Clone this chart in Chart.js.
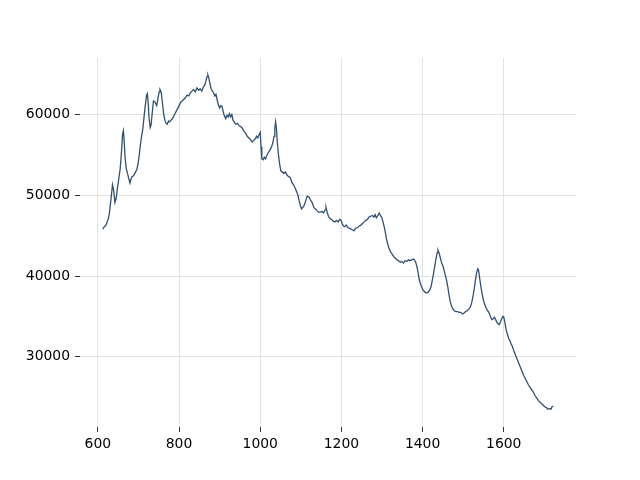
<!DOCTYPE html>
<html>
<head>
<meta charset="utf-8">
<script src="https://cdn.jsdelivr.net/npm/chart.js@4/dist/chart.umd.min.js"></script>
<style>
    html, body { margin: 0; padding: 0; background: #fff; }
    #spectrum { display: block; }
</style>
</head>
<body>
<canvas id="spectrum" width="640" height="480"></canvas>
<script>
let shift = [
    612, 616, 620, 625, 628, 630, 633, 636, 639, 642, 645, 648, 652, 655, 658, 661, 663, 665, 667, 670,
    673, 676, 679, 681, 684, 688, 692, 696, 699, 702, 705, 708, 711, 714, 717, 720, 722, 724, 726, 729,
    731, 734, 737, 740, 743, 745, 748, 751, 753, 756, 759, 762, 765, 768, 771, 774, 777, 780, 784, 788,
    792, 796, 800, 804, 808, 812, 816, 820, 824, 828, 832, 836, 840, 844, 848, 852, 856, 860, 863, 866,
    869, 871, 873, 876, 879, 882, 885, 888, 891, 894, 897, 900, 903, 906, 909, 912, 915, 918, 921, 924,
    927, 930, 933, 936, 940, 944, 948, 952, 956, 960, 964, 968, 972, 976, 980, 984, 988, 991, 994, 997,
    1000, 1002, 1004, 1007, 1010, 1013, 1016, 1020, 1024, 1028, 1031, 1034, 1036, 1038, 1040, 1042, 1045, 1048, 1051, 1054,
    1058, 1062, 1066, 1070, 1074, 1078, 1082, 1086, 1090, 1093, 1096, 1099, 1102, 1105, 1108, 1112, 1116, 1120, 1124, 1128,
    1132, 1136, 1140, 1144, 1148, 1152, 1156, 1160, 1162, 1165, 1168, 1172, 1176, 1180, 1184, 1188, 1192, 1196, 1199, 1202,
    1205, 1208, 1212, 1216, 1220, 1224, 1228, 1231, 1235, 1240, 1244, 1248, 1252, 1256, 1260, 1264, 1268, 1272, 1276, 1280,
    1283, 1286, 1290, 1293, 1296, 1299, 1302, 1305, 1308, 1311, 1314, 1317, 1321, 1325, 1329, 1333, 1337, 1341, 1345, 1349,
    1353, 1357, 1361, 1365, 1369, 1373, 1377, 1380, 1383, 1386, 1389, 1392, 1395, 1398, 1402, 1406, 1410, 1414, 1418, 1421,
    1424, 1427, 1430, 1433, 1436, 1438, 1441, 1444, 1447, 1450, 1453, 1456, 1459, 1462, 1465, 1468, 1471, 1474, 1478, 1482,
    1486, 1490, 1494, 1498, 1502, 1506, 1510, 1514, 1518, 1521, 1524, 1527, 1530, 1533, 1536, 1538, 1541, 1544, 1547, 1550,
    1553, 1556, 1559, 1562, 1565, 1568, 1571, 1574, 1577, 1580, 1583, 1586, 1589, 1592, 1595, 1598, 1600, 1603, 1606, 1609,
    1612, 1615, 1618, 1621, 1625, 1629, 1633, 1637, 1641, 1645, 1649, 1653, 1657, 1661, 1665, 1669, 1673, 1677, 1681, 1685,
    1689, 1693, 1697, 1701, 1705, 1709, 1713, 1716, 1719, 1722
];
let intensity = [
    45800, 46100, 46300, 47000, 47600, 48500, 49800, 51300, 50600, 49100, 49600, 50800, 52200, 53300, 55200, 57600, 58000, 56600, 54700, 53300,
    52700, 52100, 51500, 51900, 52300, 52400, 52800, 53200, 53900, 55000, 56300, 57400, 58300, 59800, 61200, 62400, 62600, 61400, 59600, 58400,
    58700, 60200, 61700, 61600, 61300, 61100, 62000, 62800, 63100, 62800, 61500, 60100, 59300, 58900, 58800, 59200, 59100, 59300, 59500, 59900,
    60300, 60700, 61100, 61500, 61700, 61900, 62100, 62400, 62300, 62700, 62900, 63100, 62800, 63300, 63000, 63200, 62900, 63400, 63600, 64100,
    64700, 64900, 64600, 63900, 63200, 62900, 62700, 62300, 62500, 61800, 61200, 60800, 61100, 61000, 60300, 59800, 59500, 59900, 59700, 60100,
    59700, 60000, 59300, 59100, 58800, 58900, 58600, 58500, 58300, 57900, 57700, 57300, 57100, 56900, 56600, 56800, 57000, 57300, 57100, 57500,
    57800, 56000, 54500, 54400, 54700, 54500, 54900, 55300, 55600, 56000, 56500, 57300, 58400, 59100, 58200, 56600, 55000, 53800, 53000, 52900,
    52700, 52900, 52500, 52300, 52200, 51600, 51300, 50900, 50400, 50000, 49300, 48700, 48300, 48500, 48700, 49300, 49900, 49800, 49400, 49100,
    48500, 48300, 48100, 47900, 47900, 48000, 47800, 48200, 48500, 47900, 47400, 47100, 47000, 46800, 46700, 46900, 46700, 47000, 46900, 46500,
    46200, 46100, 46300, 46000, 45900, 45800, 45700, 45600, 45900, 46000, 46200, 46300, 46500, 46700, 46900, 47000, 47300, 47400, 47500, 47300,
    47600, 47200, 47500, 47800, 47500, 47300, 46800, 46200, 45500, 44600, 44000, 43500, 43000, 42700, 42400, 42200, 42000, 41900, 41700, 41800,
    41600, 41900, 41800, 42000, 41900, 42000, 42100, 42000, 41700, 41200, 40400, 39500, 39000, 38600, 38200, 38000, 37900, 38000, 38300, 38700,
    39500, 40300, 41200, 42100, 42900, 43200, 42800, 42200, 41600, 41300, 40700, 40100, 39500, 38700, 37700, 36900, 36300, 36000, 35700, 35600,
    35600, 35500, 35500, 35300, 35400, 35600, 35700, 35900, 36200, 36700, 37400, 38300, 39400, 40400, 40900, 40700, 39600, 38600, 37700, 37000,
    36500, 36100, 35800, 35600, 35300, 34900, 34600, 34700, 34900, 34600, 34300, 34100, 34000, 34300, 34700, 35000, 34900, 34200, 33300, 32800,
    32300, 32000, 31600, 31300, 30700, 30200, 29700, 29200, 28700, 28200, 27700, 27300, 26900, 26500, 26200, 25900, 25600, 25200, 24900, 24600,
    24400, 24200, 24000, 23800, 23700, 23500, 23600, 23500, 23800, 23900
];
let xTicks = [600, 800, 1000, 1200, 1400, 1600];
let yTicks = [30000, 40000, 50000, 60000];

let lineColor = '#34506f';
let gridColor = '#e3e3e3';
let tickFont = { family: 'DejaVu Sans', size: 13.9 };

const config = {
    type: 'line',
    data: {
        datasets: [
            {
                data: shift.map((s, i) => ({ x: s, y: intensity[i] })),
                borderColor: lineColor,
                borderWidth: 1.3,
                pointRadius: 0,
                tension: 0,
                fill: false
            }
        ]
    },
    options: {
        responsive: false,
        animation: false,
        layout: {
            padding: { left: 0, top: 58, right: 64, bottom: 0 }
        },
        plugins: {
            legend: { display: false },
            tooltip: { enabled: false }
        },
        scales: {
            x: {
                type: 'linear',
                min: 556,
                max: 1778,
                border: { display: false },
                grid: {
                    color: gridColor,
                    lineWidth: 1,
                    tickColor: '#333',
                    tickLength: 5
                },
                ticks: {
                    color: '#000',
                    font: tickFont,
                    padding: 4,
                    maxRotation: 0,
                    callback: (v) => String(v)
                },
                afterBuildTicks: (scale) => { scale.ticks = xTicks.map(v => ({ value: v })); },
                afterFit: (scale) => { scale.height = 53; }
            },
            y: {
                min: 21300,
                max: 67000,
                border: { display: false },
                grid: {
                    color: gridColor,
                    lineWidth: 1,
                    tickColor: '#333',
                    tickLength: 5
                },
                ticks: {
                    color: '#000',
                    font: tickFont,
                    padding: 5,
                    callback: (v) => String(v)
                },
                afterBuildTicks: (scale) => { scale.ticks = yTicks.map(v => ({ value: v })); },
                afterFit: (scale) => { scale.width = 80; }
            }
        }
    }
};

new Chart('spectrum', config);
</script>
</body>
</html>
